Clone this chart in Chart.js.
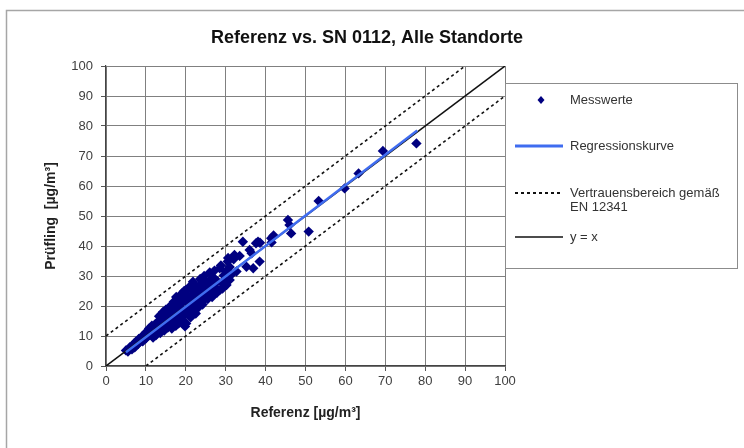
<!DOCTYPE html>
<html>
<head>
<meta charset="utf-8">
<script src="https://cdn.jsdelivr.net/npm/chart.js@4.4.1/dist/chart.umd.min.js"></script>
<style>
  html, body { margin: 0; padding: 0; background: #fff; }
  #wrap { width: 744px; height: 448px; }
</style>
</head>
<body>
<div id="wrap"><canvas id="refChart" width="744" height="448"></canvas></div>
<script>
// Messwerte: Referenz (x) und Prüfling (y)
const refValues = [
  5, 5.5, 6, 6.5, 7, 7.2, 7.5, 8, 8.2, 8.5,
  9, 9.2, 9.5, 10, 10, 10.5, 10.8, 11, 11.3, 11.5,
  12, 12, 12.4, 12.8, 13, 13.2, 13.5, 13.8, 14, 14.2,
  14.5, 14.8, 15, 15, 15.3, 15.5, 15.8, 16, 16, 16.3,
  16.6, 17, 17, 17.3, 17.5, 17.8, 18, 18, 18.2, 18.5,
  18.7, 19, 19, 19.2, 19.5, 19.8, 20, 20, 20.1, 20.3,
  20.5, 20.8, 21, 21, 21.3, 21.5, 21.8, 22, 22, 22.4,
  22.7, 23, 23, 23.4, 23.7, 24, 24, 24.5, 24.8, 25,
  25.4, 25.8, 26, 26.3, 26.8, 27, 27.5, 28, 28.5, 28.5,
  29, 29.5, 30, 30, 30.5, 31, 31, 31.5, 32, 32.2,
  32.7, 33.5, 34.3, 35.2, 36, 36.5, 36.9, 37.6, 38.1, 38.5,
  38.6, 41.4, 41.5, 42, 45.6, 46.4, 46, 50.8, 53.3, 59.8,
  63.3, 69.4, 77.8,
  11.8, 12.5, 13.6, 14.6, 16.5, 17.8, 19.3, 21.2, 22.5, 23.2,
  24.2, 25.5, 26.6, 27.8, 29.2, 30.2, 13.3, 14.3, 15.6, 16.8,
  17.6, 18.6, 19.6, 21, 22.2, 23.6, 24.6, 26, 27.2, 28.8,
  30.6
];
const testValues = [
  5.2, 4.8, 6.3, 5.6, 7.4, 6.2, 8.1, 7.3, 9, 8,
  9.8, 8.2, 10.4, 9.2, 11.2, 10, 12.5, 10.3, 11.6, 13.4,
  11, 12.6, 14, 11.5, 13.3, 15, 12.2, 14.3, 16, 12.6,
  15, 17.5, 13.5, 18.8, 15.8, 12.8, 19.5, 16.5, 14, 20.2,
  17.3, 15, 21.4, 18.5, 13.4, 19.8, 16.4, 22.5, 14.2, 20.6,
  17.6, 24.2, 15.3, 19, 22, 13.2, 18, 25.3, 14.2, 21,
  23.5, 16.8, 19.6, 22.3, 25.5, 18.2, 28.1, 20.8, 23.8, 19.5,
  26, 22.2, 24.8, 21, 27.3, 23.2, 25.8, 22, 28.4, 24.6,
  26.7, 23.8, 28.6, 25.2, 27.6, 29.4, 26, 28.2, 25.3, 32.6,
  27.8, 30.2, 28.6, 31.5, 34.8, 28.7, 33, 30.6, 35.6, 37,
  31.5, 36.7, 41.4, 33.1, 38.7, 37.6, 32.6, 40.9, 41.4, 34.8,
  41.1, 42.6, 41.2, 43.5, 48.7, 44.2, 47, 44.8, 55, 59.2,
  64.2, 71.7, 74.2,
  9.5, 10.2, 11, 11.8, 12.5, 14.6, 16.5, 16.2, 17.5, 19.6,
  20.5, 22.3, 23, 24.4, 25.8, 27, 16.6, 18, 17, 19,
  23, 23.4, 25, 26.5, 27, 29, 30, 31.2, 31.8, 33.5,
  36
];

// Regressionskurve (Endpunkte)
const regX = [5, 78];
const regY = [4.6, 78.5];

// Vertrauensbereich gemäß EN 12341
const bandUpperX = [0, 90];
const bandUpperY = [10, 100];
const bandLowerX = [10, 100];
const bandLowerY = [0, 90];

// y = x
const identX = [0, 100];
const identY = [0, 100];

const axisTicks = [0, 10, 20, 30, 40, 50, 60, 70, 80, 90, 100];

const FONT = '"Liberation Sans", Arial, sans-serif';

function toPoints(xs, ys) {
  return xs.map((x, i) => ({ x: x, y: ys[i] }));
}

// Rahmen, Titel und Legende
const decorPlugin = {
  id: 'decor',
  beforeDraw(chart) {
    const c = chart.ctx;
    c.save();
    c.fillStyle = '#fff';
    c.fillRect(0, 0, chart.width, chart.height);
    c.strokeStyle = '#a6a6a6';
    c.lineWidth = 1.5;
    c.strokeRect(6.5, 10.5, 800, 500);
    c.restore();
  },
  afterDraw(chart) {
    const c = chart.ctx;
    c.save();
    c.fillStyle = '#111';
    c.font = 'bold 18px ' + FONT;
    c.textAlign = 'center';
    c.textBaseline = 'middle';
    c.fillText('Referenz vs. SN 0112, Alle Standorte', 367, 38);

    // Legendenrahmen
    c.strokeStyle = '#8c8c8c';
    c.lineWidth = 1;
    c.strokeRect(505.5, 83.5, 232, 185);

    const ds = chart.data.datasets;
    c.font = '13px ' + FONT;
    c.textAlign = 'left';

    // Messwerte
    c.fillStyle = ds[0].backgroundColor;
    c.beginPath();
    c.moveTo(541, 96); c.lineTo(544.5, 100); c.lineTo(541, 104); c.lineTo(537.5, 100);
    c.closePath();
    c.fill();
    c.fillStyle = '#333';
    c.fillText(ds[0].label, 570, 100);

    // Regressionskurve
    c.strokeStyle = ds[1].borderColor;
    c.lineWidth = 3;
    c.beginPath(); c.moveTo(515, 146); c.lineTo(563, 146); c.stroke();
    c.fillText(ds[1].label, 570, 146);

    // Vertrauensbereich
    c.strokeStyle = ds[2].borderColor;
    c.lineWidth = 1.8;
    c.setLineDash(ds[2].borderDash);
    c.beginPath(); c.moveTo(515, 193); c.lineTo(563, 193); c.stroke();
    c.setLineDash([]);
    c.fillText('Vertrauensbereich gemäß', 570, 193);
    c.fillText('EN 12341', 570, 207);

    // y = x
    c.strokeStyle = ds[4].borderColor;
    c.lineWidth = 1.5;
    c.beginPath(); c.moveTo(515, 237); c.lineTo(563, 237); c.stroke();
    c.fillText(ds[4].label, 570, 237);
    c.restore();
  }
};

const ctx = document.getElementById('refChart').getContext('2d');
new Chart(ctx, {
  type: 'scatter',
  data: {
    datasets: [
      {
        label: 'Messwerte',
        data: toPoints(refValues, testValues),
        pointStyle: 'rectRot',
        pointRadius: 5.2,
        backgroundColor: '#000080',
        borderColor: '#000080',
        borderWidth: 0,
        order: 5
      },
      {
        label: 'Regressionskurve',
        data: toPoints(regX, regY),
        showLine: true,
        pointRadius: 0,
        borderColor: '#3f6cf0',
        borderWidth: 2.5,
        order: 1
      },
      {
        label: 'Vertrauensbereich gemäß EN 12341',
        data: toPoints(bandUpperX, bandUpperY),
        showLine: true,
        pointRadius: 0,
        borderColor: '#111',
        borderWidth: 1.6,
        borderDash: [3, 3],
        order: 3
      },
      {
        label: 'Vertrauensbereich unten',
        data: toPoints(bandLowerX, bandLowerY),
        showLine: true,
        pointRadius: 0,
        borderColor: '#111',
        borderWidth: 1.6,
        borderDash: [3, 3],
        order: 3
      },
      {
        label: 'y = x',
        data: toPoints(identX, identY),
        showLine: true,
        pointRadius: 0,
        borderColor: '#111',
        borderWidth: 1.5,
        order: 2
      }
    ]
  },
  options: {
    responsive: false,
    animation: false,
    devicePixelRatio: 1,
    layout: { padding: { top: 66, right: 239, bottom: 0, left: 0 } },
    plugins: {
      legend: { display: false },
      title: { display: false },
      tooltip: { enabled: false }
    },
    scales: {
      x: {
        type: 'linear',
        min: 0,
        max: 100,
        afterBuildTicks: s => { s.ticks = axisTicks.map(v => ({ value: v })); },
        afterFit: s => { s.height = 82; s.paddingLeft = 0; s.paddingRight = 0; },
        ticks: { color: '#404040', padding: 3, font: { family: FONT, size: 13 } },
        grid: { color: '#808080', lineWidth: 1, tickLength: 5, tickColor: '#555' },
        border: { color: '#444', width: 1.2 },
        title: {
          display: true,
          text: 'Referenz [µg/m³]',
          color: '#222',
          font: { family: FONT, size: 14, weight: 'bold' },
          padding: { top: 0, bottom: 26 }
        }
      },
      y: {
        type: 'linear',
        min: 0,
        max: 100,
        afterBuildTicks: s => { s.ticks = axisTicks.map(v => ({ value: v })); },
        afterFit: s => { s.width = 106; s.paddingTop = 0; s.paddingBottom = 0; },
        ticks: { color: '#404040', padding: 8, font: { family: FONT, size: 13 } },
        grid: { color: '#808080', lineWidth: 1, tickLength: 5, tickColor: '#555' },
        border: { color: '#444', width: 1.2 },
        title: {
          display: true,
          text: 'Prüfling  [µg/m³]',
          color: '#222',
          font: { family: FONT, size: 14, weight: 'bold' },
          padding: { top: 43, bottom: 0 }
        }
      }
    }
  },
  plugins: [decorPlugin]
});
</script>
</body>
</html>
